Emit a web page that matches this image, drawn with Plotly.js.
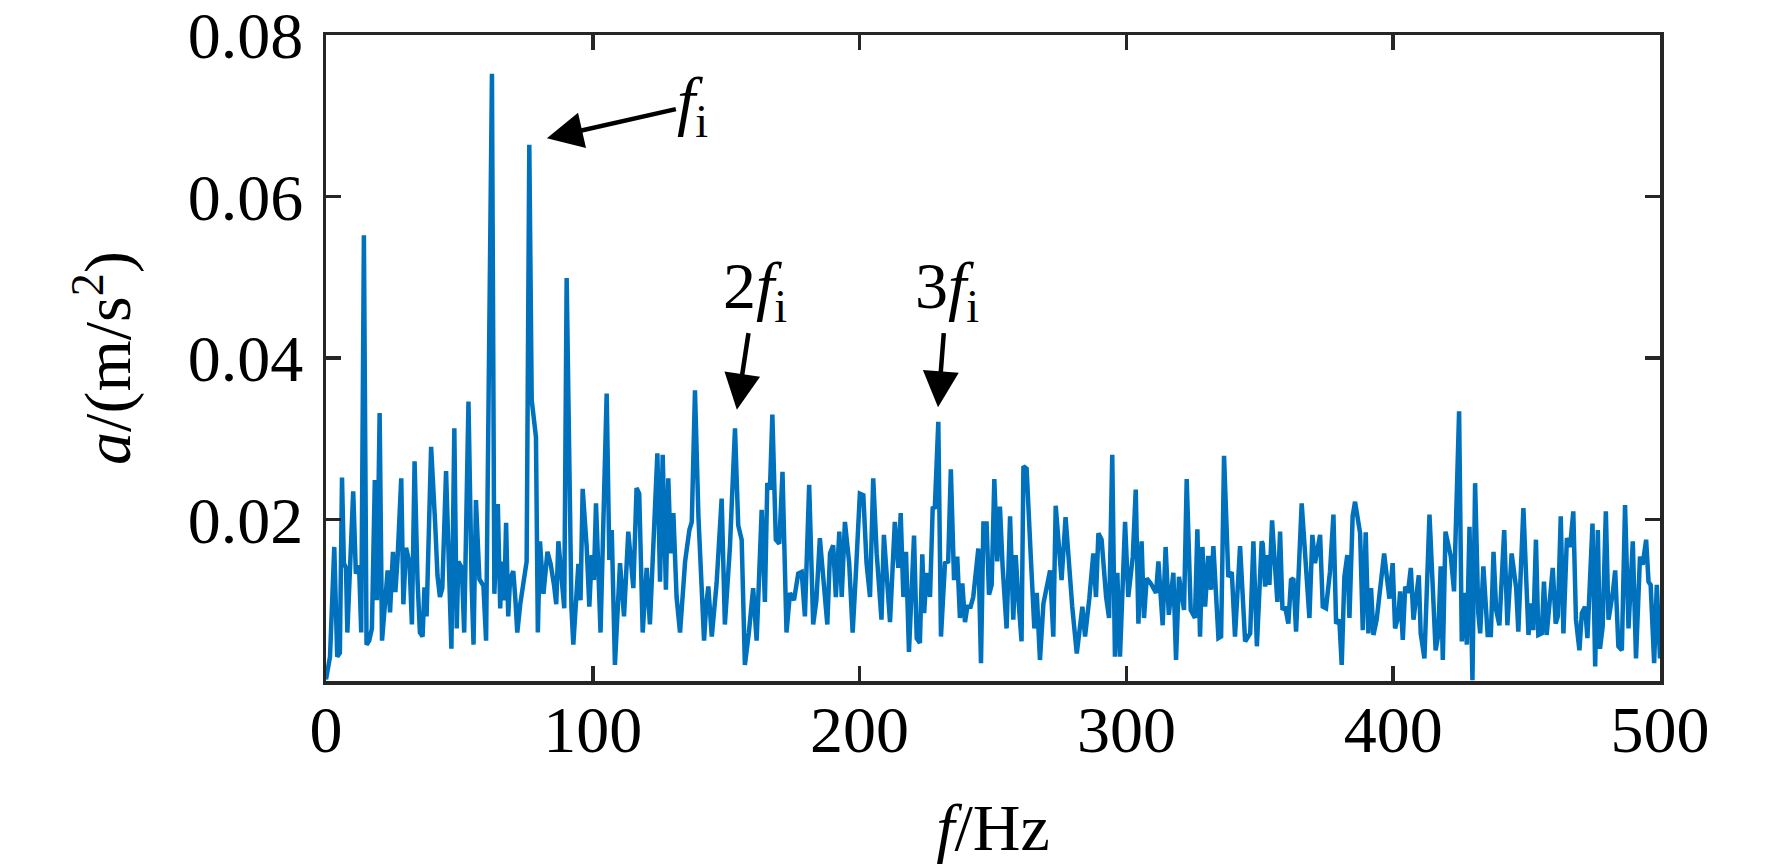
<!DOCTYPE html>
<html>
<head>
<meta charset="utf-8">
<script src="https://cdn.plot.ly/plotly-3.0.1.min.js"></script>
<style>
  html, body { margin: 0; padding: 0; background: #fff; }
  #plot-area { width: 1772px; height: 864px; }
</style>
</head>
<body>
<div id="plot-area"></div>
<script>
// spectrum, frequency in Hz and amplitude in m/s^2
const freq = [
  0, 1.5, 3.1, 4.2, 5.2, 6.0, 6.7, 7.5, 8.0, 9.0, 10.2, 11.2, 12.4, 13.2, 14.2, 15.2, 16.2, 17.2, 18.3, 19.1,
  20.1, 21.0, 22.0, 23.1, 24.0, 25.1, 26.0, 26.8, 28.2, 29.0, 30.0, 31.3, 32.2, 33.2, 34.3, 35.2, 36.2, 36.9, 37.7, 39.4,
  40.9, 41.8, 42.7, 43.6, 45.0, 46.2, 47.0, 48.1, 49.0, 49.6, 50.9, 51.8, 53.4, 54.6, 55.3, 56.2, 57.5, 59.0, 60.0, 62.2,
  63.1, 64.4, 65.3, 65.9, 66.8, 67.5, 68.3, 69.0, 70.2, 71.0, 71.7, 72.8, 75.2, 76.2, 77.1, 78.7, 79.4, 80.2, 81.5, 83.0,
  84.2, 85.5, 86.3, 87.1, 88.6, 89.3, 90.2, 91.5, 92.0, 92.7, 93.6, 94.6, 95.4, 96.2, 97.7, 98.7, 99.6, 100.4, 101.2, 102.1,
  102.9, 105.2, 106.2, 107.1, 108.3, 110.2, 111.7, 113.3, 115.2, 116.4, 117.4, 118.7, 120.2, 121.4, 124.2, 125.2, 126.2, 127.4, 128.3, 129.2,
  130.2, 131.4, 132.7, 134.6, 136.2, 137.1, 138.3, 139.6, 140.8, 141.7, 142.5, 143.3, 144.6, 145.5, 146.4, 148.3, 149.5, 150.5, 151.4, 153.3,
  154.5, 155.8, 157.0, 158.5, 160.1, 161.4, 163.3, 164.5, 165.4, 166.4, 167.3, 168.6, 169.9, 171.1, 172.6, 173.9, 175.4, 177.0, 178.3, 179.5,
  181.1, 182.6, 183.8, 185.1, 186.4, 187.9, 188.9, 190.1, 191.1, 192.4, 193.3, 194.5, 196.1, 197.4, 198.6, 200.1, 201.4, 202.6, 203.9, 205.1,
  206.4, 208.2, 209.1, 211.4, 213.2, 214.5, 215.4, 216.4, 217.4, 218.5, 220.4, 221.4, 222.6, 223.5, 224.2, 225.1, 226.4, 227.4, 228.2, 229.5,
  230.5, 232.0, 233.2, 234.2, 235.4, 236.6, 237.6, 238.5, 239.5, 240.4, 241.6, 242.6, 244.5, 245.5, 246.4, 247.6, 248.5, 249.5, 250.5, 251.6,
  252.6, 253.6, 255.1, 256.4, 257.6, 258.5, 259.5, 260.7, 261.4, 262.6, 264.1, 265.5, 266.4, 267.6, 268.9, 271.4, 272.6, 273.5, 275.7, 277.2,
  279.7, 281.4, 283.5, 284.5, 286.1, 287.6, 288.6, 289.5, 290.7, 292.4, 293.5, 294.7, 295.7, 296.6, 297.6, 299.5, 300.7, 302.4, 303.5, 304.5,
  305.7, 306.6, 307.6, 309.1, 311.1, 312.0, 313.6, 314.7, 315.9, 317.6, 318.6, 319.7, 321.6, 322.6, 324.1, 325.7, 326.6, 327.6, 328.5, 329.5,
  330.7, 331.7, 332.6, 334.5, 335.5, 336.6, 338.2, 339.5, 340.7, 342.6, 344.5, 346.4, 347.6, 348.9, 350.7, 351.1, 352.0, 352.8, 353.6, 354.6,
  355.7, 356.6, 357.6, 358.5, 359.5, 360.7, 361.7, 362.6, 363.6, 365.7, 368.6, 369.7, 370.7, 372.6, 373.6, 374.8, 376.3, 377.6, 378.6, 379.8,
  380.7, 381.7, 382.8, 383.6, 384.8, 385.7, 387.6, 388.6, 389.7, 390.7, 391.7, 392.6, 393.8, 396.6, 397.6, 398.6, 399.8, 400.7, 401.9, 402.6,
  403.6, 404.5, 405.5, 406.6, 407.6, 408.6, 409.6, 410.3, 411.7, 413.6, 415.1, 415.9, 416.9, 417.8, 418.6, 419.6, 421.6, 422.8, 424.7, 425.7,
  426.6, 427.6, 428.6, 429.7, 430.7, 431.9, 432.6, 433.8, 435.4, 436.6, 437.6, 438.6, 439.8, 441.6, 442.8, 444.4, 446.1, 446.9, 448.8, 450.7,
  451.6, 452.5, 453.5, 454.4, 455.7, 456.5, 457.5, 458.5, 459.8, 460.9, 461.7, 462.8, 463.8, 465.1, 466.3, 467.5, 468.5, 469.8, 470.7, 471.9,
  472.8, 474.7, 475.7, 476.7, 477.5, 478.5, 479.7, 480.7, 482.3, 483.2, 484.4, 485.7, 486.9, 488.2, 489.8, 491.0, 492.5, 493.5, 494.8, 495.7,
  496.5, 497.8, 498.8, 500
]
const amp = [
  0.0002, 0.0030, 0.0166, 0.0030, 0.0035, 0.0252, 0.0146, 0.0140, 0.0060, 0.0148, 0.0235, 0.0133, 0.0143, 0.0060, 0.0552, 0.0045, 0.0050, 0.0065, 0.0249, 0.0100,
  0.0332, 0.0050, 0.0095, 0.0137, 0.0085, 0.0160, 0.0110, 0.0150, 0.0251, 0.0095, 0.0165, 0.0146, 0.0070, 0.0272, 0.0125, 0.0060, 0.0055, 0.0116, 0.0080, 0.0290,
  0.0196, 0.0130, 0.0104, 0.0115, 0.0260, 0.0108, 0.0040, 0.0313, 0.0065, 0.0148, 0.0140, 0.0060, 0.0346, 0.0118, 0.0045, 0.0224, 0.0126, 0.0118, 0.0050, 0.0752,
  0.0108, 0.0219, 0.0090, 0.0148, 0.0100, 0.0196, 0.0080, 0.0126, 0.0136, 0.0100, 0.0060, 0.0095, 0.0148, 0.0664, 0.0348, 0.0302, 0.0060, 0.0173, 0.0108, 0.0160,
  0.0145, 0.0118, 0.0095, 0.0173, 0.0110, 0.0090, 0.0499, 0.0118, 0.0090, 0.0045, 0.0100, 0.0145, 0.0100, 0.0238, 0.0166, 0.0092, 0.0156, 0.0125, 0.0220, 0.0125,
  0.0060, 0.0356, 0.0150, 0.0187, 0.0020, 0.0146, 0.0080, 0.0185, 0.0115, 0.0239, 0.0232, 0.0060, 0.0140, 0.0070, 0.0282, 0.0123, 0.0280, 0.0113, 0.0251, 0.0158,
  0.0208, 0.0104, 0.0060, 0.0148, 0.0187, 0.0197, 0.0360, 0.0203, 0.0094, 0.0050, 0.0094, 0.0117, 0.0055, 0.0090, 0.0121, 0.0226, 0.0070, 0.0120, 0.0166, 0.0313,
  0.0193, 0.0175, 0.0020, 0.0060, 0.0115, 0.0050, 0.0212, 0.0098, 0.0245, 0.0237, 0.0330, 0.0175, 0.0170, 0.0259, 0.0060, 0.0109, 0.0100, 0.0133, 0.0135, 0.0080,
  0.0243, 0.0070, 0.0100, 0.0177, 0.0133, 0.0070, 0.0158, 0.0168, 0.0104, 0.0185, 0.0104, 0.0197, 0.0146, 0.0060, 0.0133, 0.0232, 0.0230, 0.0146, 0.0104, 0.0251,
  0.0158, 0.0076, 0.0181, 0.0073, 0.0197, 0.0140, 0.0208, 0.0104, 0.0160, 0.0036, 0.0180, 0.0053, 0.0047, 0.0157, 0.0084, 0.0134, 0.0104, 0.0214, 0.0215, 0.0321,
  0.0055, 0.0146, 0.0148, 0.0262, 0.0125, 0.0154, 0.0078, 0.0121, 0.0073, 0.0092, 0.0092, 0.0104, 0.0164, 0.0022, 0.0195, 0.0195, 0.0107, 0.0119, 0.0250, 0.0148,
  0.0216, 0.0142, 0.0065, 0.0204, 0.0076, 0.0156, 0.0102, 0.0049, 0.0266, 0.0263, 0.0158, 0.0065, 0.0109, 0.0026, 0.0096, 0.0137, 0.0055, 0.0217, 0.0125, 0.0203,
  0.0092, 0.0034, 0.0092, 0.0055, 0.0102, 0.0158, 0.0104, 0.0183, 0.0175, 0.0104, 0.0078, 0.0280, 0.0030, 0.0134, 0.0030, 0.0197, 0.0104, 0.0154, 0.0237, 0.0071,
  0.0173, 0.0078, 0.0127, 0.0121, 0.0109, 0.0148, 0.0069, 0.0166, 0.0082, 0.0134, 0.0026, 0.0129, 0.0088, 0.0250, 0.0088, 0.0078, 0.0188, 0.0055, 0.0166, 0.0092,
  0.0155, 0.0113, 0.0167, 0.0053, 0.0055, 0.0279, 0.0129, 0.0135, 0.0055, 0.0167, 0.0049, 0.0059, 0.0173, 0.0043, 0.0173, 0.0170, 0.0117, 0.0156, 0.0119, 0.0199,
  0.0142, 0.0098, 0.0185, 0.0088, 0.0092, 0.0071, 0.0125, 0.0127, 0.0061, 0.0220, 0.0078, 0.0181, 0.0146, 0.0181, 0.0092, 0.0090, 0.0135, 0.0206, 0.0071, 0.0076,
  0.0020, 0.0129, 0.0156, 0.0078, 0.0204, 0.0222, 0.0183, 0.0063, 0.0184, 0.0059, 0.0115, 0.0057, 0.0076, 0.0158, 0.0129, 0.0102, 0.0146, 0.0065, 0.0080, 0.0111,
  0.0051, 0.0117, 0.0109, 0.0140, 0.0076, 0.0109, 0.0131, 0.0059, 0.0028, 0.0206, 0.0084, 0.0038, 0.0057, 0.0142, 0.0026, 0.0185, 0.0154, 0.0111, 0.0334, 0.0049,
  0.0109, 0.0045, 0.0191, 0.0001, 0.0245, 0.0084, 0.0059, 0.0142, 0.0057, 0.0057, 0.0160, 0.0088, 0.0069, 0.0187, 0.0069, 0.0158, 0.0115, 0.0061, 0.0214, 0.0057,
  0.0096, 0.0063, 0.0175, 0.0057, 0.0059, 0.0123, 0.0057, 0.0092, 0.0140, 0.0071, 0.0080, 0.0204, 0.0059, 0.0177, 0.0166, 0.0210, 0.0076, 0.0038, 0.0084, 0.0092,
  0.0053, 0.0195, 0.0018, 0.0187, 0.0040, 0.0067, 0.0210, 0.0076, 0.0109, 0.0137, 0.0043, 0.0038, 0.0218, 0.0065, 0.0173, 0.0028, 0.0154, 0.0144, 0.0175, 0.0123,
  0.0119, 0.0022, 0.0119, 0.0028
]

const xTicks = [0, 100, 200, 300, 400, 500]
const yTicks = [0.02, 0.04, 0.06, 0.08]
const yTickText = ['0.02', '0.04', '0.06', '0.08']

// harmonic labels: text centre and arrow tip (data units)
const markLabels = ['<i>f</i><sub>i</sub>', '2<i>f</i><sub>i</sub>', '3<i>f</i><sub>i</sub>']
const labelX = [137.5, 160.8, 232.8]
const labelY = [0.0713, 0.0484, 0.0484]
const tipX = [82.8, 154.0, 229.4]
const tipY = [0.0672, 0.0336, 0.0339]

const serif = '"Liberation Serif", "Times New Roman", serif'
const ink = '#262626'

const spectrum = {
  x: freq,
  y: amp,
  type: 'scatter',
  mode: 'lines',
  line: {color: '#0072BD', width: 4.5},
  hoverinfo: 'skip'
}

let notes = []
for (let i = 0; i < markLabels.length; i++) {
  notes.push({
    x: tipX[i], y: tipY[i], xref: 'x', yref: 'y',
    ax: labelX[i], ay: labelY[i], axref: 'x', ayref: 'y',
    text: markLabels[i], showarrow: true,
    arrowhead: 2, arrowsize: 1.6, arrowwidth: 4.5, arrowcolor: '#000',
    standoff: 0, startstandoff: 0,
    font: {family: serif, size: 66, color: '#000'}
  })
}

const axisStyle = {
  showline: true, linecolor: ink, linewidth: 3.5,
  ticks: 'inside', ticklen: 15, tickwidth: 3.5, tickcolor: ink,
  mirror: 'allticks', showgrid: false, zeroline: false,
  ticklabeloverflow: 'allow',
  tickfont: {family: serif, size: 66, color: '#000'}
}

const layout = {
  width: 1772,
  height: 864,
  margin: {l: 326, r: 112, t: 35, b: 183},
  paper_bgcolor: '#fff',
  plot_bgcolor: '#fff',
  showlegend: false,
  xaxis: Object.assign({}, axisStyle, {
    range: [0, 500], tickvals: xTicks,
    ticklabelstandoff: -12,
    title: {text: '<i>f</i>/Hz', standoff: 44, font: {family: serif, size: 66, color: '#000'}}
  }),
  yaxis: Object.assign({}, axisStyle, {
    range: [0, 0.08], tickvals: yTicks, ticktext: yTickText,
    ticklabelstandoff: 6,
    title: {text: '<i>a</i>/(m/s<sup>2</sup>)', standoff: 36, font: {family: serif, size: 66, color: '#000'}}
  }),
  annotations: notes
}

Plotly.newPlot('plot-area', [spectrum], layout, {staticPlot: true})
</script>
</body>
</html>
